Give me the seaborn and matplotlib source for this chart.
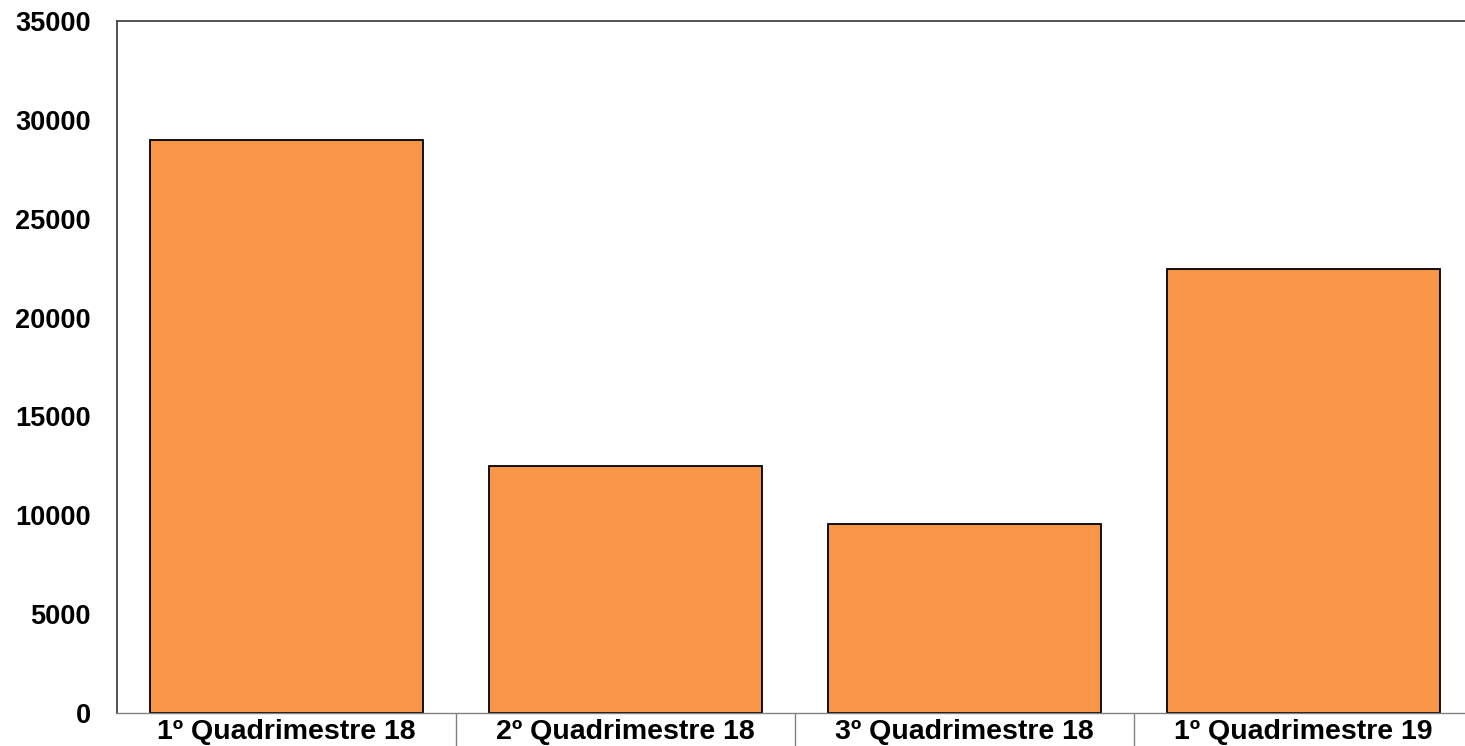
import matplotlib
matplotlib.use("Agg")
import matplotlib.pyplot as plt
import seaborn as sns
import numpy as np

# valores
categorias = ["1º Quadrimestre 18", "2º Quadrimestre 18", "3º Quadrimestre 18", "1º Quadrimestre 19"]
valores = [29000, 12500, 9550, 22450]
y_ticks = [0, 5000, 10000, 15000, 20000, 25000, 30000, 35000]

sns.set_style("white")
plt.rcParams['font.family'] = ['Liberation Sans', 'DejaVu Sans']
plt.rcParams['text.color'] = 'black'
plt.rcParams['xtick.color'] = 'black'
plt.rcParams['ytick.color'] = 'black'

fig = plt.figure(figsize=(14.65, 7.46), dpi=100)
ax = fig.add_axes([117 / 1465, 33 / 746, 1356 / 1465, 692 / 746])

sns.barplot(x=categorias, y=valores, color="#F79646", saturation=1,
            edgecolor="black", linewidth=1.3, width=0.805, ax=ax)

ax.set_xlim(-0.5, 3.5)
ax.set_ylim(0, 35000)
ax.set_yticks(y_ticks)
ax.set_yticklabels([str(v) for v in y_ticks], fontsize=19.5, fontweight="bold")
ax.tick_params(axis="y", length=0, pad=19, labelcolor="black")

ax.set_xticks(range(len(categorias)))
ax.set_xticklabels(categorias, fontsize=20.5, fontweight="bold")
ax.tick_params(axis="x", which="major", length=0, pad=4.5, labelcolor="black")
# separadores entre categorias
ax.set_xticks(np.arange(0.5, 4, 1), minor=True)
ax.tick_params(axis="x", which="minor", bottom=True, length=40, width=1,
               color="#808080", direction="out")

for side in ["left", "top", "right"]:
    ax.spines[side].set_color("#444444")
    ax.spines[side].set_linewidth(1.3)
ax.spines["bottom"].set_color("#808080")
ax.spines["bottom"].set_linewidth(1)

ax.set_xlabel("")
ax.set_ylabel("")

fig.savefig("out.png", dpi=100)
